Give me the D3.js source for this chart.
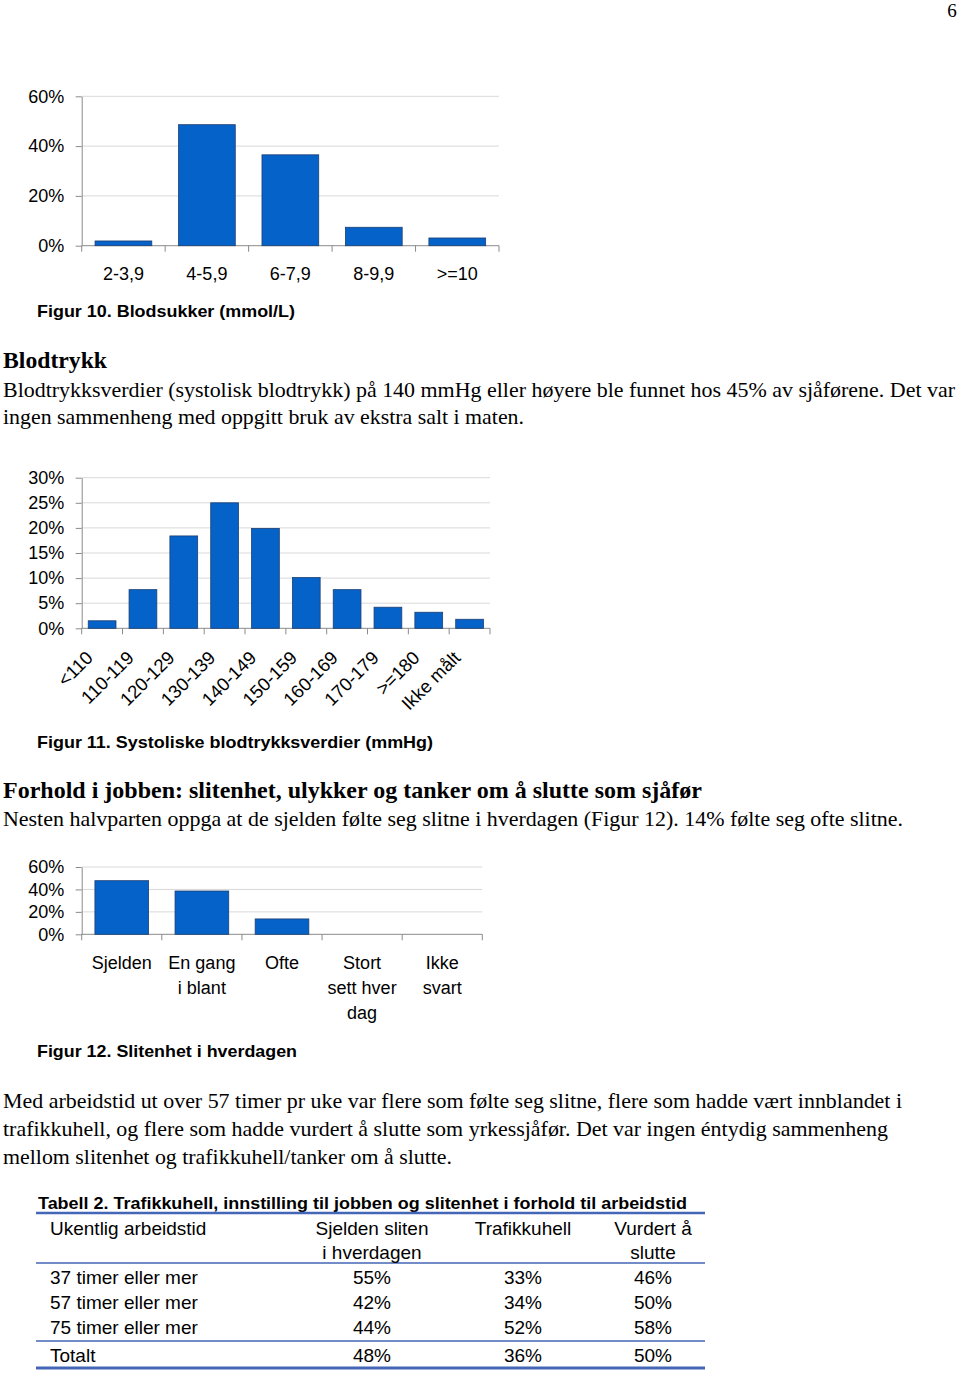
<!DOCTYPE html>
<html><head><meta charset="utf-8">
<script src="https://cdn.jsdelivr.net/npm/d3@7"></script>
<style>body{margin:0;background:#fff}svg{display:block}</style>
</head><body>
<svg id="page" width="960" height="1375"></svg>
<script>
// ---------- DATA ----------
const glucoseCategories = ["2-3,9", "4-5,9", "6-7,9", "8-9,9", ">=10"];
const glucoseValues = [1.9, 48.6, 36.5, 7.4, 3.1];
const glucoseTicks = [0, 20, 40, 60];

const bpCategories = ["<110", "110-119", "120-129", "130-139", "140-149", "150-159", "160-169", "170-179", ">=180", "Ikke målt"];
const bpValues = [1.5, 7.7, 18.4, 25.0, 19.9, 10.1, 7.7, 4.2, 3.2, 1.8];
const bpTicks = [0, 5, 10, 15, 20, 25, 30];

const tiredCategories = [["Sjelden"], ["En gang", "i blant"], ["Ofte"], ["Stort", "sett hver", "dag"], ["Ikke", "svart"]];
const tiredValues = [47.8, 38.6, 13.7, 0, 0];
const tiredTicks = [0, 20, 40, 60];

const tableTitle = "Tabell 2. Trafikkuhell, innstilling til jobben og slitenhet i forhold til arbeidstid";
const tableHeader = [["Ukentlig arbeidstid"], ["Sjelden sliten", "i hverdagen"], ["Trafikkuhell"], ["Vurdert å", "slutte"]];
const tableRowLabels = ["37 timer eller mer", "57 timer eller mer", "75 timer eller mer", "Totalt"];
const tableSjelden = ["55%", "42%", "44%", "48%"];
const tableUhell = ["33%", "34%", "52%", "36%"];
const tableSlutte = ["46%", "50%", "58%", "50%"];

const captions = ["Figur 10. Blodsukker (mmol/L)", "Figur 11. Systoliske blodtrykksverdier (mmHg)", "Figur 12. Slitenhet i hverdagen"];
const heading1 = "Blodtrykk";
const para1 = ["Blodtrykksverdier (systolisk blodtrykk) på 140 mmHg eller høyere ble funnet hos 45% av sjåførene. Det var",
               "ingen sammenheng med oppgitt bruk av ekstra salt i maten."];
const heading2 = "Forhold i jobben: slitenhet, ulykker og tanker om å slutte som sjåfør";
const para2 = ["Nesten halvparten oppga at de sjelden følte seg slitne i hverdagen (Figur 12). 14% følte seg ofte slitne."];
const para3 = ["Med arbeidstid ut over 57 timer pr uke var flere som følte seg slitne, flere som hadde vært innblandet i",
               "trafikkuhell, og flere som hadde vurdert å slutte som yrkessjåfør. Det var ingen éntydig sammenheng",
               "mellom slitenhet og trafikkuhell/tanker om å slutte."];
const pageNumber = "6";

// ---------- STYLE ----------
const SANS = "'Liberation Sans', Arial, Helvetica, sans-serif";
const SERIF = "'Liberation Serif', 'Times New Roman', Times, serif";
const BAR_FILL = "#0562c8";
const BAR_STROKE = "#1d3f72";
const AXIS = "#8a8a8a";
const GRID = "#d9d9d9";
const TABLE_LINE = "#4366b6";

const svg = d3.select("#page");
svg.append("rect").attr("width", 960).attr("height", 1375).attr("fill", "#fff");

function text(x, y, str, opt) {
  const t = svg.append("text").attr("x", x).attr("y", y).text(str)
    .attr("font-family", opt.family || SANS)
    .attr("font-size", opt.size || 18)
    .attr("font-weight", opt.weight || "normal")
    .attr("fill", "#000")
    .attr("text-anchor", opt.anchor || "start");
  if (opt.len) t.attr("textLength", opt.len).attr("lengthAdjust", opt.adjust || "spacing");
  return t;
}

function barChart(cfg) {
  const n = cfg.values.length;
  const y = d3.scaleLinear().domain([0, cfg.yMax]).range([cfg.yBottom, cfg.yTop]);
  const x = d3.scaleBand().domain(d3.range(n)).range([cfg.x0, cfg.x1]).padding(0);
  const g = svg.append("g");
  g.selectAll("line.grid").data(cfg.ticks.filter(d => d > 0)).join("line")
    .attr("x1", cfg.x0).attr("x2", cfg.x1)
    .attr("y1", d => y(d)).attr("y2", d => y(d))
    .attr("stroke", GRID).attr("stroke-width", 1);
  const ya = g.append("g").attr("transform", `translate(${cfg.x0},0)`)
    .call(d3.axisLeft(y).tickValues(cfg.ticks).tickFormat(d => d + "%").tickSize(6).tickSizeOuter(0).tickPadding(11.5));
  ya.select(".domain").attr("stroke", AXIS);
  ya.selectAll(".tick line").attr("stroke", AXIS);
  ya.selectAll(".tick text").attr("font-family", SANS).attr("font-size", 18).attr("fill", "#000");
  g.append("line").attr("x1", cfg.x0).attr("x2", cfg.x1).attr("y1", cfg.yBottom).attr("y2", cfg.yBottom).attr("stroke", AXIS);
  g.selectAll("line.xt").data(d3.range(n + 1)).join("line")
    .attr("x1", i => cfg.x0 + i * x.step()).attr("x2", i => cfg.x0 + i * x.step())
    .attr("y1", cfg.yBottom).attr("y2", cfg.yBottom + 6).attr("stroke", AXIS);
  const bw = x.bandwidth() * cfg.barFrac;
  g.selectAll("rect.bar").data(cfg.values.map((v, i) => ({ v, i })).filter(d => d.v > 0)).join("rect")
    .attr("x", d => x(d.i) + (x.bandwidth() - bw) / 2)
    .attr("width", bw)
    .attr("y", d => y(d.v))
    .attr("height", d => cfg.yBottom - y(d.v))
    .attr("fill", BAR_FILL).attr("stroke", BAR_STROKE).attr("stroke-width", 0.8);
  return { x, y, g };
}

// ---------- page number ----------
text(952, 17, pageNumber, { family: SERIF, size: 19, anchor: "middle" });

// ---------- Figure 10 ----------
const c1 = barChart({ values: glucoseValues, ticks: glucoseTicks, yMax: 60, x0: 81.7, x1: 499, yBottom: 245.7, yTop: 96.3, barFrac: 0.68 });
glucoseCategories.forEach((c, i) => {
  text(c1.x(i) + c1.x.bandwidth() / 2, 279.5, c, { size: 18, anchor: "middle" });
});
text(37, 317, captions[0], { size: 16.5, weight: "bold", len: 258, adjust: "spacingAndGlyphs" });

// ---------- Text block 1 ----------
text(3, 368, heading1, { family: SERIF, size: 22.5, weight: "bold", len: 104, adjust: "spacingAndGlyphs" });
text(3, 397, para1[0], { family: SERIF, size: 21, len: 952, adjust: "spacingAndGlyphs" });
text(3, 424, para1[1], { family: SERIF, size: 21, len: 521, adjust: "spacingAndGlyphs" });

// ---------- Figure 11 ----------
const c2 = barChart({ values: bpValues, ticks: bpTicks, yMax: 30, x0: 81.7, x1: 490, yBottom: 628.3, yTop: 477.7, barFrac: 0.68 });
bpCategories.forEach((c, i) => {
  const cx = c2.x(i) + c2.x.bandwidth() / 2 - 8;
  svg.append("text").attr("transform", `translate(${cx},659) rotate(-45)`)
    .attr("text-anchor", "end").attr("font-family", SANS).attr("font-size", 18.5).attr("fill", "#000").text(c);
});
text(37, 748, captions[1], { size: 16.5, weight: "bold", len: 396, adjust: "spacingAndGlyphs" });

// ---------- Text block 2 ----------
text(3, 798, heading2, { family: SERIF, size: 22.5, weight: "bold", len: 699, adjust: "spacingAndGlyphs" });
text(3, 826, para2[0], { family: SERIF, size: 21, len: 900, adjust: "spacingAndGlyphs" });

// ---------- Figure 12 ----------
const c3 = barChart({ values: tiredValues, ticks: tiredTicks, yMax: 60, x0: 81.7, x1: 482.3, yBottom: 934.3, yTop: 867, barFrac: 0.67 });
tiredCategories.forEach((lines, i) => {
  lines.forEach((ln, j) => {
    text(c3.x(i) + c3.x.bandwidth() / 2, 968.5 + j * 25, ln, { size: 18, anchor: "middle" });
  });
});
text(37, 1057, captions[2], { size: 16.5, weight: "bold", len: 260, adjust: "spacingAndGlyphs" });

// ---------- Text block 3 ----------
const p3len = [899, 885, 449];
para3.forEach((ln, i) => text(3, 1108 + i * 28, ln, { family: SERIF, size: 21, len: p3len[i], adjust: "spacingAndGlyphs" }));

// ---------- Table ----------
text(38, 1209, tableTitle, { size: 17, weight: "bold", len: 649, adjust: "spacingAndGlyphs" });
const tLine = (y, w) => svg.append("line").attr("x1", 36).attr("x2", 705).attr("y1", y).attr("y2", y).attr("stroke", TABLE_LINE).attr("stroke-width", w);
tLine(1213, 2.6);
tLine(1263, 1.6);
tLine(1341, 1.6);
tLine(1368, 3.2);
const colX = [50, 372, 523, 653];
tableHeader.forEach((lines, c) => {
  lines.forEach((ln, j) => text(colX[c], 1235 + j * 24, ln, { size: 19, anchor: c === 0 ? "start" : "middle" }));
});
const rowY = [1284, 1309, 1334, 1362];
tableRowLabels.forEach((lab, r) => {
  text(colX[0], rowY[r], lab, { size: 19 });
  text(colX[1], rowY[r], tableSjelden[r], { size: 19, anchor: "middle" });
  text(colX[2], rowY[r], tableUhell[r], { size: 19, anchor: "middle" });
  text(colX[3], rowY[r], tableSlutte[r], { size: 19, anchor: "middle" });
});
</script>
</body></html>
